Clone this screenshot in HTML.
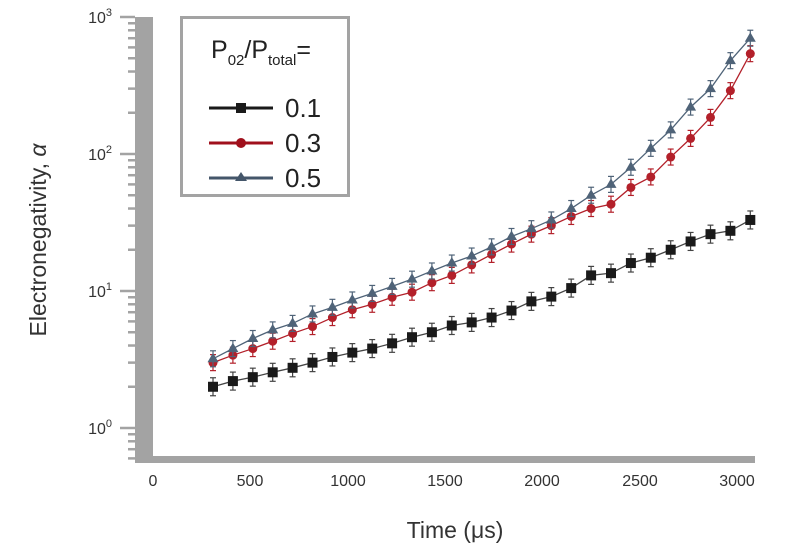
<!DOCTYPE html>
<html><head><meta charset="utf-8"><style>
body{margin:0;background:#fff;}
svg{display:block;font-family:"Liberation Sans","DejaVu Sans",sans-serif;}
</style></head><body>
<svg id="s" width="790" height="555" xmlns="http://www.w3.org/2000/svg">
<rect x="135" y="17" width="18" height="446" fill="#a3a3a3"/>
<rect x="135" y="456" width="620" height="7" fill="#a3a3a3"/>
<g id="ticks" stroke="#a3a3a3" stroke-width="2.5"></g>
<g font-size="16" fill="#333" text-anchor="end">
<text x="112" y="23">10<tspan font-size="11" dy="-7">3</tspan></text>
<text x="112" y="160">10<tspan font-size="11" dy="-7">2</tspan></text>
<text x="112" y="297">10<tspan font-size="11" dy="-7">1</tspan></text>
<text x="112" y="434">10<tspan font-size="11" dy="-7">0</tspan></text>
</g>
<g font-size="16" fill="#333" text-anchor="middle">
<text x="153" y="486">0</text><text x="250" y="486">500</text><text x="348" y="486">1000</text>
<text x="445" y="486">1500</text><text x="542" y="486">2000</text><text x="640" y="486">2500</text><text x="737" y="486">3000</text>
</g>
<text x="455" y="538" font-size="23" fill="#333" text-anchor="middle">Time (μs)</text>
<text transform="translate(46,240) rotate(-90)" font-size="23" fill="#333" text-anchor="middle">Electronegativity, <tspan font-style="italic">α</tspan></text>
<g id="data"></g>
<rect x="181.5" y="17.5" width="167" height="178" fill="#fff" stroke="#a3a3a3" stroke-width="3"/>
<text x="211" y="58" font-size="25" fill="#222">P<tspan font-size="15" dy="7">02</tspan><tspan dy="-7">/P</tspan><tspan font-size="15" dy="7">total</tspan><tspan dy="-7">=</tspan></text>
<g stroke-width="3">
<line x1="209" y1="108" x2="273" y2="108" stroke="#1a1a1a"/><rect x="236" y="103" width="10" height="10" fill="#1a1a1a"/>
<line x1="209" y1="143" x2="273" y2="143" stroke="#a0101c"/><circle cx="241" cy="143" r="5" fill="#a0101c"/>
<line x1="209" y1="178" x2="273" y2="178" stroke="#44566a"/><polygon points="241,172 247,181 235,181" fill="#44566a"/>
</g>
<g font-size="26" fill="#222">
<text x="285" y="117">0.1</text><text x="285" y="152">0.3</text><text x="285" y="187">0.5</text>
</g>
</svg>
<script>
var NS="http://www.w3.org/2000/svg";
function el(t,a,p){var e=document.createElementNS(NS,t);for(var k in a)e.setAttribute(k,a[k]);p.appendChild(e);return e;}
var tk=document.getElementById('ticks');
function Y(v){return 428-137*Math.log10(v);}
for(var d=-1;d<3;d++){for(var m=1;m<10;m++){var y=Y(m*Math.pow(10,d));if(y<17||y>460)continue;
el('line',{x1:m==1?120:128,x2:135,y1:y,y2:y},tk);}}
el('line',{x1:120,x2:135,y1:Y(1000),y2:Y(1000)},tk);
var B=[2.0,2.2,2.35,2.55,2.75,3.0,3.3,3.55,3.8,4.15,4.6,5.0,5.6,5.9,6.4,7.2,8.4,9.1,10.5,13,13.5,16,17.5,20,23,26,27.5,33];
var R=[3.0,3.4,3.8,4.3,4.9,5.5,6.4,7.3,8.0,9.0,9.8,11.5,13,15.5,18.5,22,26,30,35,40,43,57,68,95,130,185,290,540];
var U=[3.2,3.8,4.5,5.2,5.8,6.8,7.6,8.6,9.6,10.8,12.2,14,16,18,21,25,28.5,33,40,50,60,80,110,150,220,300,480,700];
var g=document.getElementById('data');
function X(i){return 213+i*19.9;}
function series(arr,col,type,eb){
var pts=arr.map(function(v,i){return X(i)+','+Y(v);}).join(' ');
arr.forEach(function(v,i){var x=X(i),y=Y(v);
el('line',{x1:x,x2:x,y1:y-eb,y2:y+eb,stroke:col,'stroke-width':1.2},g);
el('line',{x1:x-3,x2:x+3,y1:y-eb,y2:y-eb,stroke:col,'stroke-width':1.2},g);
el('line',{x1:x-3,x2:x+3,y1:y+eb,y2:y+eb,stroke:col,'stroke-width':1.2},g);});
el('polyline',{points:pts,fill:'none',stroke:col,'stroke-width':1.3},g);
arr.forEach(function(v,i){var x=X(i),y=Y(v);
if(type==0)el('rect',{x:x-5,y:y-5,width:10,height:10,fill:'#1a1a1a'},g);
else if(type==1)el('circle',{cx:x,cy:y,r:4.5,fill:col},g);
else el('polygon',{points:(x)+','+(y-6)+' '+(x+5.5)+','+(y+3.5)+' '+(x-5.5)+','+(y+3.5),fill:col},g);});
}
series(B,'#444',0,9);
series(R,'#b3202a',1,8);
series(U,'#4f6378',2,8);
</script>
</body></html>
